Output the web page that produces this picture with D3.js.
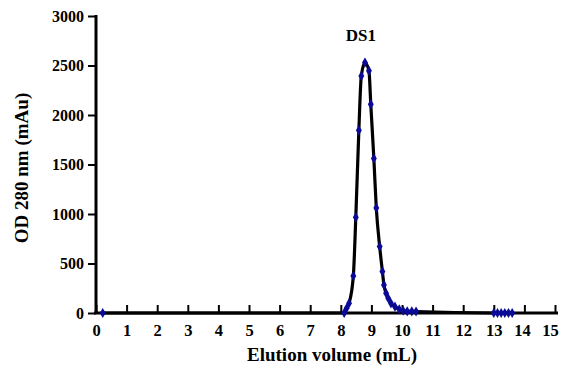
<!DOCTYPE html>
<html>
<head>
<meta charset="utf-8">
<script src="https://cdn.jsdelivr.net/npm/d3@7"></script>
<style>
  body { margin: 0; background: #fff; }
  svg text { font-family: "Liberation Serif", "Times New Roman", serif; font-weight: bold; }
</style>
</head>
<body>
<div id="chart"></div>
<script>
// elution volume (mL) and OD280 (mAu)
const volume = [0.22, 8.11, 8.19, 8.27, 8.41, 8.49, 8.59, 8.67, 8.79, 8.92, 8.98, 9.08, 9.16, 9.27,
                9.36, 9.41, 9.48, 9.55, 9.64, 9.77, 9.91, 10.04, 10.17, 10.32, 10.46,
                13.0, 13.12, 13.24, 13.36, 13.48, 13.6];
const od280 = [0, 0, 48, 98, 375, 966, 1845, 2395, 2530, 2446, 2108, 1561, 1061, 672,
               418, 283, 200, 149, 98, 64, 37, 23, 17, 17, 15,
               0, 0, 0, 0, 0, 0];
const xTicks = d3.range(0, 16);
const yTicks = [0, 500, 1000, 1500, 2000, 2500, 3000];
const peakLabel = {text: "DS1", x: 8.79};

const width = 562, height = 371;
const margin = {top: 16, right: 7, bottom: 58, left: 96};

const svg = d3.select("#chart").append("svg")
    .attr("width", width)
    .attr("height", height);

const x = d3.scaleLinear().domain([0, 15]).range([margin.left, width - margin.right]);
const y = d3.scaleLinear().domain([0, 3000]).range([height - margin.bottom, margin.top]);

// x axis, ticks point up into the plot
const gx = svg.append("g")
    .attr("transform", "translate(0," + y(0) + ")")
    .call(d3.axisBottom(x).tickValues(xTicks).tickFormat(d3.format("d"))
        .tickSizeInner(-8).tickSizeOuter(0).tickPadding(11));
gx.select(".domain").attr("stroke-width", 3).attr("d", "M" + (x(0) - 2) + ",0H" + (x(15) + 3));
gx.selectAll(".tick line").attr("stroke-width", 2);
gx.selectAll(".tick text").attr("font-size", 16.5).attr("fill", "#000")
    .attr("dx", d => d >= 14 ? -(d - 13) * 2.5 : 0);

// y axis
const gy = svg.append("g")
    .attr("transform", "translate(" + x(0) + ",0)")
    .call(d3.axisLeft(y).tickValues(yTicks).tickFormat(d3.format("d"))
        .tickSizeInner(8).tickSizeOuter(0).tickPadding(4));
gy.select(".domain").attr("stroke-width", 3).attr("d", "M0," + (y(0) + 1) + "V" + (y(3000) - 1));
gy.selectAll(".tick line").attr("stroke-width", 2);
gy.selectAll(".tick text").attr("font-size", 16).attr("fill", "#000");

// titles
svg.append("text")
    .attr("x", 332).attr("y", 361)
    .attr("text-anchor", "middle")
    .attr("font-size", 19)
    .text("Elution volume (mL)");

svg.append("text")
    .attr("transform", "translate(28," + 168 + ") rotate(-90)")
    .attr("text-anchor", "middle")
    .attr("font-size", 19)
    .text("OD 280 nm (mAu)");

const pts = volume.map((v, i) => [v, od280[i]]);

const line = d3.line()
    .x(d => x(d[0]))
    .y(d => y(d[1]))
    .curve(d3.curveMonotoneX);

svg.append("path")
    .datum(pts)
    .attr("fill", "none")
    .attr("stroke", "#000")
    .attr("stroke-width", 3.2)
    .attr("d", line);

svg.append("g").selectAll("path")
    .data(pts)
    .join("path")
    .attr("transform", d => "translate(" + x(d[0]) + "," + y(d[1]) + ")")
    .attr("d", d3.symbol(d3.symbolDiamond, 30))
    .attr("fill", "#0a0a96");

svg.append("text")
    .attr("x", x(peakLabel.x) - 4).attr("y", 41)
    .attr("text-anchor", "middle")
    .attr("font-size", 17)
    .text(peakLabel.text);
</script>
</body>
</html>
